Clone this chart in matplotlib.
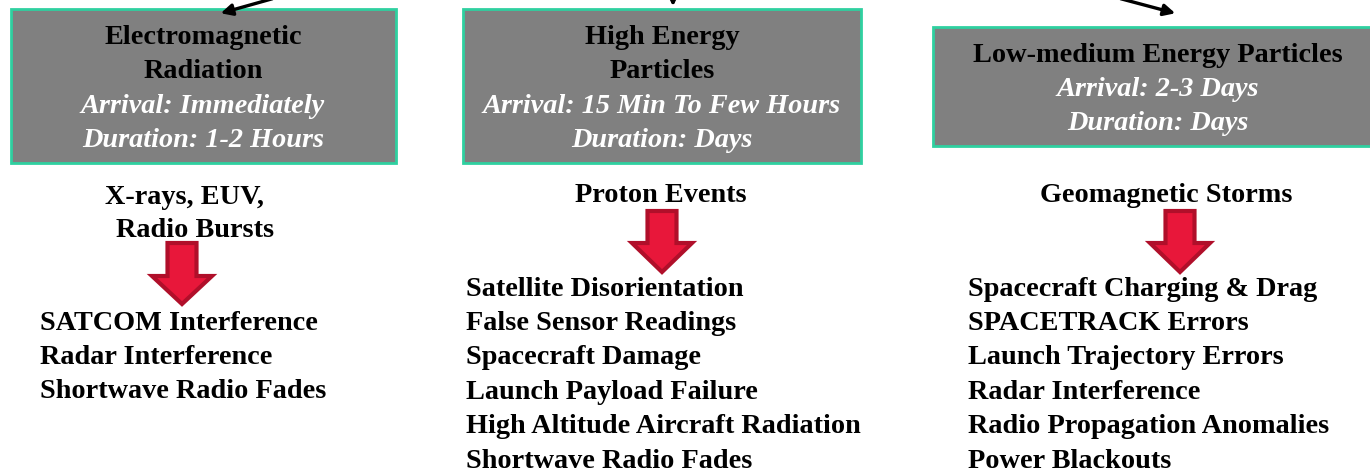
import matplotlib
matplotlib.use("Agg")
import matplotlib.pyplot as plt
from matplotlib.patches import Rectangle, Polygon, FancyArrowPatch

# ---- content ----
titles = [["Electromagnetic", "Radiation"], ["High Energy", "Particles"], ["Low-medium Energy Particles"]]
arrivals = ["Arrival: Immediately", "Arrival: 15 Min To Few Hours", "Arrival: 2-3 Days"]
durations = ["Duration: 1-2 Hours", "Duration: Days", "Duration: Days"]
triggers = [["X-rays, EUV,", "Radio Bursts"], ["Proton Events"], ["Geomagnetic Storms"]]
effects_em = ["SATCOM Interference", "Radar Interference", "Shortwave Radio Fades"]
effects_hep = ["Satellite Disorientation", "False Sensor Readings", "Spacecraft Damage",
               "Launch Payload Failure", "High Altitude Aircraft Radiation", "Shortwave Radio Fades"]
effects_lmp = ["Spacecraft Charging & Drag", "SPACETRACK Errors", "Launch Trajectory Errors",
               "Radar Interference", "Radio Propagation Anomalies", "Power Blackouts"]
effects = [effects_em, effects_hep, effects_lmp]

# ---- layout (pixel coordinates) ----
W, H = 1370, 473
fig = plt.figure(figsize=(W / 100, H / 100), dpi=100)
ax = fig.add_axes([0, 0, 1, 1])
ax.set_xlim(0, W)
ax.set_ylim(H, 0)
ax.axis("off")

FONT = "Liberation Serif"
FS = 20.3
GRAY = "#808080"
TEAL = "#2fd0a0"
RED = "#e8173a"
DRED = "#b00f2a"
DY = 2

boxes = [(11, 9, 385, 154), (463, 9, 398, 154), (933, 27, 445, 119)]
box_cx = [203, 662, 1158]
title_y0 = [36, 36, 53]
line = 34

for i, (x, y, w, h) in enumerate(boxes):
    ax.add_patch(Rectangle((x, y), w, h, facecolor=GRAY, edgecolor=TEAL, lw=2))
    yy = title_y0[i] + DY
    for t in titles[i]:
        ax.text(box_cx[i], yy, t, ha="center", va="center", family=FONT,
                fontweight="bold", fontsize=FS, color="black")
        yy += line
    for t in (arrivals[i], durations[i]):
        ax.text(box_cx[i], yy, t, ha="center", va="center", family=FONT,
                fontweight="bold", style="italic", fontsize=FS, color="white")
        yy += line

# top black arrows coming from above
top_arrows = [((275, -2), (218, 14)), ((673, -6), (673, 9)), ((1118, -2), (1178, 14))]
for s, e in top_arrows:
    ax.add_patch(FancyArrowPatch(s, e, arrowstyle="-|>", mutation_scale=17,
                                 color="black", lw=2.4, clip_on=False))

# triggers
trig_pos = [[(185, 195), (195, 228)], [(661, 193)], [(1166, 193)]]
for i, tl in enumerate(triggers):
    for t, (tx, ty) in zip(tl, trig_pos[i]):
        ax.text(tx, ty + DY, t, ha="center", va="center", family=FONT,
                fontweight="bold", fontsize=FS, color="black")

# red down arrows
def red_arrow(cx, top, head_y, tip, shaft_w=29, head_w=60):
    pts = [(cx - shaft_w / 2, top), (cx + shaft_w / 2, top), (cx + shaft_w / 2, head_y),
           (cx + head_w / 2, head_y), (cx, tip), (cx - head_w / 2, head_y),
           (cx - shaft_w / 2, head_y)]
    ax.add_patch(Polygon(pts, closed=True, facecolor=RED, edgecolor=DRED, lw=3,
                         joinstyle="miter"))

red_arrow(182, 243, 276, 304)
red_arrow(662, 211, 243, 272)
red_arrow(1180, 211, 243, 272)

# effect lists
list_x = [40, 466, 968]
list_y0 = [321, 287, 287]
for i, items in enumerate(effects):
    for k, t in enumerate(items):
        ax.text(list_x[i], list_y0[i] + k * 34.4 + DY, t, ha="left", va="center", family=FONT,
                fontweight="bold", fontsize=FS, color="black")

fig.savefig("out.png", dpi=100, facecolor="white")
